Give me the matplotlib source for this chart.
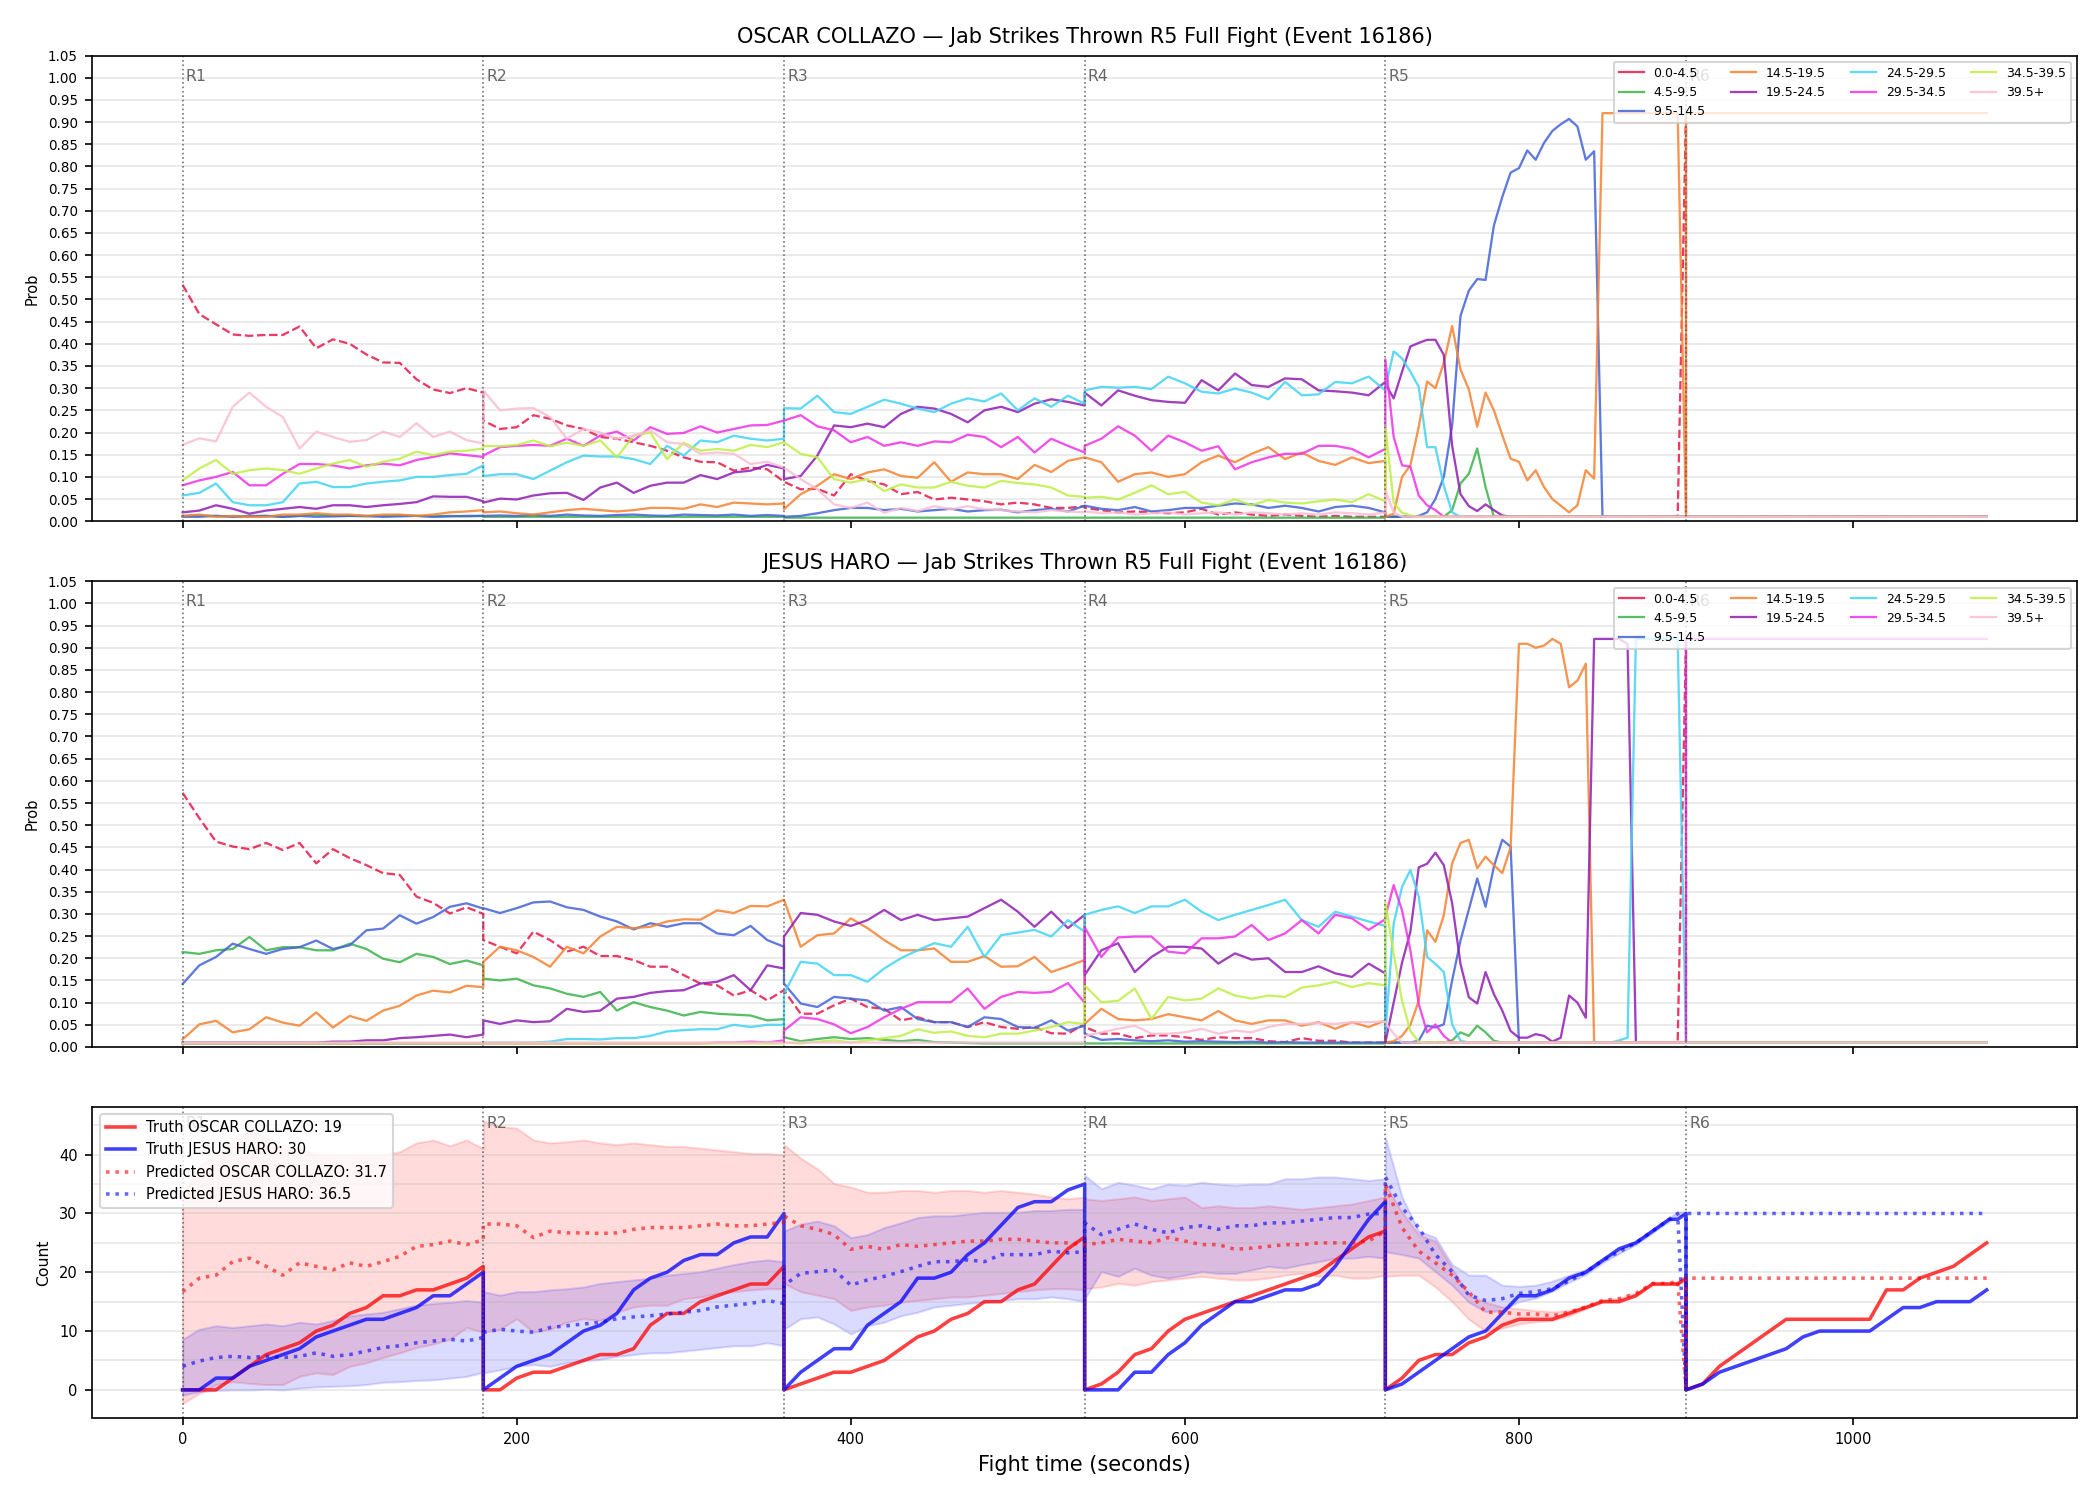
"""
Jab strikes thrown - round-by-round probability and count chart
"""

import matplotlib
matplotlib.use('Agg')
import matplotlib.pyplot as plt
from matplotlib.lines import Line2D
from matplotlib.ticker import MultipleLocator
import numpy as np

# ---------------------------------------------------------------- data
ROUND_STARTS = [0, 180, 360, 540, 720, 900]

BIN_LABELS = ['0.0-4.5', '4.5-9.5', '9.5-14.5', '14.5-19.5', '19.5-24.5',
              '24.5-29.5', '29.5-34.5', '34.5-39.5', '39.5+']
BIN_COLORS = ['#e6194b', '#3cb44b', '#4363d8', '#f58231', '#911eb4',
              '#42d4f4', '#f032e6', '#bfef45', '#fabed4']

# sample times of the probability curves (round 5 is sampled every 5 s)
PROB_TIMES = [np.arange(0, 181, 10), np.arange(180, 361, 10),
              np.arange(360, 541, 10), np.arange(540, 721, 10),
              np.arange(720, 901, 5), np.array([900, 1080])]

# sample times of the count curves
COUNT_TIMES = [np.arange(0, 181, 10), np.arange(180, 361, 10),
               np.arange(360, 541, 10), np.arange(540, 721, 10),
               np.r_[np.arange(720, 891, 10), 895, 900],
               np.arange(900, 1081, 10)]

# OSCAR COLLAZO - probability per bin, one list per round
col_00 = [
    [0.533, 0.467, 0.444, 0.421, 0.418, 0.42, 0.42, 0.439, 0.39, 0.41, 0.40, 0.376, 0.358, 0.357, 0.32, 0.297, 0.289, 0.30, 0.29],
    [0.227, 0.208, 0.212, 0.239, 0.231, 0.216, 0.208, 0.19, 0.186, 0.178, 0.17, 0.159, 0.144, 0.134, 0.133, 0.114, 0.121, 0.117, 0.089],
    [0.089, 0.072, 0.073, 0.058, 0.106, 0.091, 0.083, 0.061, 0.066, 0.049, 0.053, 0.049, 0.045, 0.038, 0.042, 0.038, 0.03, 0.03, 0.034],
    [0.03, 0.025, 0.02, 0.022, 0.02, 0.018, 0.02, 0.028, 0.015, 0.02, 0.015, 0.012, 0.015, 0.012, 0.01, 0.012, 0.01, 0.01, 0.01],
    [0.01] * 36 + [0.92],
    [0.01, 0.01]]
col_45 = [
    [0.012, 0.013, 0.012, 0.011, 0.012, 0.012, 0.01, 0.012, 0.015, 0.012, 0.012, 0.011, 0.012, 0.013, 0.012, 0.011, 0.012, 0.011, 0.012],
    [0.01] * 19,
    [0.008] * 19,
    [0.008] * 19,
    [0.01] * 8 + [0.025, 0.085, 0.107, 0.164, 0.077, 0.01] + [0.01] * 23,
    [0.01, 0.01]]
col_95 = [
    [0.01, 0.01, 0.012, 0.01, 0.011, 0.012, 0.01, 0.012, 0.01, 0.011, 0.012, 0.012, 0.01, 0.011, 0.012, 0.01, 0.011, 0.012, 0.012],
    [0.012, 0.013, 0.012, 0.014, 0.012, 0.015, 0.013, 0.012, 0.014, 0.015, 0.013, 0.012, 0.015, 0.014, 0.013, 0.015, 0.012, 0.014, 0.012],
    [0.01, 0.012, 0.018, 0.025, 0.03, 0.03, 0.025, 0.028, 0.022, 0.025, 0.028, 0.022, 0.025, 0.026, 0.02, 0.025, 0.028, 0.022, 0.035],
    [0.035, 0.028, 0.025, 0.032, 0.022, 0.025, 0.03, 0.03, 0.035, 0.04, 0.038, 0.03, 0.035, 0.03, 0.022, 0.032, 0.035, 0.03, 0.02],
    [0.01, 0.01, 0.01, 0.01, 0.012, 0.02, 0.05, 0.1, 0.216, 0.463, 0.52, 0.546, 0.544, 0.667, 0.731, 0.786, 0.796,
     0.836, 0.815, 0.853, 0.88, 0.895, 0.907, 0.89, 0.815, 0.834] + [0.01] * 11,
    [0.01, 0.01]]
col_145 = [
    [0.012, 0.015, 0.01, 0.012, 0.01, 0.01, 0.015, 0.015, 0.018, 0.015, 0.015, 0.012, 0.015, 0.015, 0.012, 0.015, 0.02, 0.022, 0.025],
    [0.02, 0.022, 0.018, 0.015, 0.02, 0.025, 0.028, 0.025, 0.022, 0.025, 0.03, 0.03, 0.028, 0.038, 0.032, 0.042, 0.04, 0.038, 0.04],
    [0.027, 0.061, 0.08, 0.106, 0.095, 0.11, 0.117, 0.102, 0.098, 0.133, 0.089, 0.11, 0.106, 0.106, 0.095, 0.127, 0.111, 0.136, 0.144],
    [0.144, 0.133, 0.089, 0.106, 0.11, 0.10, 0.106, 0.133, 0.148, 0.133, 0.152, 0.167, 0.14, 0.155, 0.136, 0.127, 0.144, 0.131, 0.136],
    [0.01, 0.017, 0.1, 0.126, 0.213, 0.315, 0.3, 0.357, 0.44, 0.342, 0.297, 0.213, 0.29, 0.25, 0.194, 0.141, 0.134,
     0.092, 0.115, 0.077, 0.05, 0.035, 0.02, 0.036, 0.115, 0.096] + [0.92] * 10 + [0.01],
    [0.92, 0.92]]
col_195 = [
    [0.02, 0.024, 0.036, 0.028, 0.017, 0.024, 0.028, 0.032, 0.028, 0.036, 0.036, 0.032, 0.036, 0.039, 0.043, 0.056, 0.055, 0.055, 0.045],
    [0.042, 0.051, 0.049, 0.058, 0.063, 0.064, 0.048, 0.076, 0.087, 0.064, 0.08, 0.087, 0.087, 0.104, 0.095, 0.11, 0.114, 0.127, 0.119],
    [0.095, 0.102, 0.148, 0.216, 0.212, 0.22, 0.212, 0.242, 0.258, 0.254, 0.242, 0.223, 0.25, 0.258, 0.246, 0.265, 0.275, 0.269, 0.261],
    [0.29, 0.261, 0.295, 0.283, 0.273, 0.269, 0.267, 0.318, 0.295, 0.333, 0.307, 0.303, 0.322, 0.32, 0.295, 0.293, 0.29, 0.284, 0.314],
    [0.31, 0.277, 0.337, 0.394, 0.402, 0.409, 0.409, 0.375, 0.17, 0.061, 0.034, 0.023, 0.038, 0.025, 0.013] + [0.01] * 22,
    [0.01, 0.01]]
col_245 = [
    [0.058, 0.064, 0.085, 0.043, 0.036, 0.036, 0.043, 0.085, 0.089, 0.077, 0.077, 0.085, 0.089, 0.092, 0.10, 0.10, 0.104, 0.107, 0.126],
    [0.102, 0.106, 0.106, 0.095, 0.114, 0.133, 0.148, 0.146, 0.146, 0.14, 0.129, 0.17, 0.148, 0.182, 0.178, 0.193, 0.186, 0.182, 0.186],
    [0.255, 0.254, 0.283, 0.246, 0.242, 0.258, 0.274, 0.265, 0.254, 0.246, 0.265, 0.277, 0.27, 0.288, 0.25, 0.277, 0.258, 0.283, 0.265],
    [0.295, 0.303, 0.301, 0.303, 0.298, 0.326, 0.311, 0.292, 0.288, 0.299, 0.29, 0.275, 0.314, 0.284, 0.286, 0.314, 0.311, 0.326, 0.295],
    [0.30, 0.383, 0.367, 0.337, 0.303, 0.167, 0.167, 0.08, 0.02] + [0.01] * 28,
    [0.01, 0.01]]
col_295 = [
    [0.081, 0.092, 0.10, 0.111, 0.081, 0.081, 0.107, 0.129, 0.129, 0.126, 0.119, 0.126, 0.13, 0.126, 0.138, 0.145, 0.153, 0.149, 0.145],
    [0.148, 0.167, 0.17, 0.172, 0.17, 0.186, 0.17, 0.193, 0.202, 0.182, 0.212, 0.197, 0.199, 0.214, 0.2, 0.208, 0.216, 0.217, 0.227],
    [0.227, 0.239, 0.214, 0.205, 0.178, 0.19, 0.17, 0.178, 0.17, 0.18, 0.178, 0.195, 0.19, 0.167, 0.19, 0.155, 0.186, 0.17, 0.155],
    [0.17, 0.186, 0.214, 0.193, 0.159, 0.193, 0.178, 0.159, 0.169, 0.117, 0.133, 0.144, 0.152, 0.152, 0.17, 0.17, 0.163, 0.144, 0.163],
    [0.365, 0.19, 0.126, 0.123, 0.058, 0.036, 0.025] + [0.01] * 30,
    [0.01, 0.01]]
col_345 = [
    [0.092, 0.119, 0.138, 0.107, 0.115, 0.119, 0.115, 0.107, 0.119, 0.13, 0.138, 0.123, 0.134, 0.141, 0.157, 0.149, 0.157, 0.159, 0.164],
    [0.17, 0.169, 0.172, 0.182, 0.169, 0.177, 0.17, 0.182, 0.144, 0.193, 0.2, 0.14, 0.177, 0.159, 0.163, 0.159, 0.172, 0.167, 0.178],
    [0.178, 0.152, 0.144, 0.095, 0.087, 0.095, 0.068, 0.083, 0.076, 0.076, 0.089, 0.08, 0.076, 0.091, 0.086, 0.083, 0.076, 0.058, 0.055],
    [0.053, 0.055, 0.049, 0.064, 0.081, 0.061, 0.066, 0.042, 0.036, 0.049, 0.036, 0.048, 0.042, 0.04, 0.045, 0.049, 0.043, 0.061, 0.045],
    [0.213, 0.042, 0.019, 0.013] + [0.01] * 33,
    [0.01, 0.01]]
col_395 = [
    [0.172, 0.187, 0.18, 0.258, 0.29, 0.258, 0.235, 0.164, 0.202, 0.19, 0.179, 0.183, 0.202, 0.19, 0.221, 0.19, 0.202, 0.183, 0.175],
    [0.295, 0.25, 0.254, 0.255, 0.235, 0.186, 0.208, 0.2, 0.186, 0.193, 0.205, 0.178, 0.174, 0.152, 0.155, 0.152, 0.129, 0.134, 0.121],
    [0.121, 0.095, 0.072, 0.038, 0.03, 0.042, 0.019, 0.03, 0.023, 0.034, 0.027, 0.034, 0.027, 0.025, 0.022, 0.02, 0.025, 0.022, 0.02],
    [0.022, 0.018, 0.02, 0.015, 0.018, 0.02, 0.015, 0.018, 0.02, 0.015, 0.02, 0.018, 0.015, 0.018, 0.015, 0.02, 0.018, 0.015, 0.02],
    [0.07, 0.02] + [0.01] * 35,
    [0.01, 0.01]]

# JESUS HARO - probability per bin, one list per round
har_00 = [
    [0.573, 0.516, 0.463, 0.452, 0.446, 0.46, 0.444, 0.46, 0.414, 0.446, 0.426, 0.41, 0.392, 0.388, 0.339, 0.325, 0.301, 0.315, 0.3],
    [0.241, 0.226, 0.211, 0.26, 0.241, 0.215, 0.226, 0.205, 0.205, 0.196, 0.181, 0.181, 0.162, 0.143, 0.139, 0.116, 0.128, 0.105, 0.128],
    [0.128, 0.075, 0.075, 0.094, 0.109, 0.09, 0.086, 0.06, 0.067, 0.056, 0.056, 0.045, 0.056, 0.045, 0.041, 0.045, 0.031, 0.03, 0.052],
    [0.045, 0.03, 0.03, 0.02, 0.026, 0.026, 0.022, 0.016, 0.022, 0.02, 0.02, 0.013, 0.011, 0.02, 0.014, 0.014, 0.01, 0.01, 0.01],
    [0.01] * 36 + [0.92],
    [0.01, 0.01]]
har_45 = [
    [0.214, 0.21, 0.218, 0.221, 0.248, 0.218, 0.225, 0.225, 0.218, 0.218, 0.233, 0.221, 0.199, 0.191, 0.21, 0.203, 0.187, 0.195, 0.184],
    [0.154, 0.15, 0.154, 0.139, 0.132, 0.12, 0.113, 0.124, 0.082, 0.101, 0.09, 0.082, 0.071, 0.079, 0.075, 0.073, 0.071, 0.06, 0.063],
    [0.022, 0.013, 0.018, 0.022, 0.018, 0.02, 0.016, 0.013, 0.016, 0.011, 0.01, 0.009, 0.008, 0.008, 0.008, 0.008, 0.008, 0.008, 0.008],
    [0.008] * 19,
    [0.01] * 8 + [0.015, 0.033, 0.025, 0.048, 0.033, 0.014] + [0.01] * 23,
    [0.01, 0.01]]
har_95 = [
    [0.142, 0.184, 0.203, 0.233, 0.221, 0.21, 0.221, 0.225, 0.24, 0.221, 0.229, 0.263, 0.267, 0.297, 0.278, 0.293, 0.316, 0.324, 0.312],
    [0.313, 0.302, 0.313, 0.326, 0.328, 0.315, 0.309, 0.294, 0.283, 0.265, 0.279, 0.271, 0.279, 0.279, 0.256, 0.252, 0.273, 0.241, 0.226],
    [0.143, 0.098, 0.09, 0.113, 0.109, 0.105, 0.082, 0.09, 0.063, 0.056, 0.056, 0.045, 0.067, 0.063, 0.045, 0.043, 0.06, 0.037, 0.048],
    [0.03, 0.016, 0.018, 0.015, 0.013, 0.015, 0.012, 0.013, 0.012, 0.011, 0.012, 0.01, 0.011, 0.01, 0.01, 0.01, 0.01, 0.01, 0.01],
    [0.01, 0.01, 0.01, 0.01, 0.014, 0.048, 0.044, 0.051, 0.15, 0.24, 0.31, 0.38, 0.316, 0.407, 0.467, 0.452] + [0.01] * 21,
    [0.01, 0.01]]
har_145 = [
    [0.017, 0.051, 0.059, 0.033, 0.04, 0.067, 0.055, 0.048, 0.078, 0.044, 0.07, 0.059, 0.082, 0.093, 0.116, 0.127, 0.123, 0.138, 0.135],
    [0.192, 0.226, 0.218, 0.203, 0.181, 0.226, 0.211, 0.249, 0.271, 0.268, 0.271, 0.283, 0.288, 0.287, 0.308, 0.302, 0.318, 0.317, 0.332],
    [0.332, 0.226, 0.252, 0.256, 0.29, 0.268, 0.241, 0.218, 0.218, 0.222, 0.192, 0.192, 0.205, 0.181, 0.182, 0.203, 0.169, 0.182, 0.196],
    [0.052, 0.086, 0.063, 0.06, 0.063, 0.074, 0.067, 0.06, 0.081, 0.06, 0.052, 0.06, 0.06, 0.048, 0.056, 0.041, 0.056, 0.045, 0.06],
    [0.01, 0.013, 0.025, 0.05, 0.104, 0.263, 0.237, 0.297, 0.414, 0.46, 0.467, 0.403, 0.429, 0.41, 0.392, 0.45, 0.909,
     0.909, 0.9, 0.905, 0.92, 0.909, 0.811, 0.826, 0.864] + [0.01] * 12,
    [0.01, 0.01]]
har_195 = [
    [0.01] * 9 + [0.012, 0.012, 0.015, 0.015, 0.02, 0.022, 0.025, 0.028, 0.022, 0.028],
    [0.06, 0.052, 0.06, 0.056, 0.058, 0.086, 0.079, 0.082, 0.109, 0.113, 0.122, 0.126, 0.128, 0.143, 0.147, 0.162, 0.128, 0.184, 0.177],
    [0.249, 0.302, 0.298, 0.283, 0.273, 0.286, 0.309, 0.286, 0.298, 0.286, 0.29, 0.294, 0.313, 0.332, 0.305, 0.271, 0.305, 0.268, 0.298],
    [0.162, 0.218, 0.234, 0.169, 0.203, 0.226, 0.226, 0.222, 0.188, 0.211, 0.197, 0.2, 0.169, 0.169, 0.182, 0.166, 0.158, 0.188, 0.166],
    [0.01, 0.1, 0.19, 0.26, 0.405, 0.413, 0.438, 0.41, 0.324, 0.187, 0.112, 0.098, 0.169, 0.119, 0.082, 0.036, 0.021,
     0.021, 0.029, 0.025, 0.012, 0.021, 0.116, 0.1, 0.066, 0.92, 0.92, 0.92, 0.92, 0.909] + [0.01] * 7,
    [0.01, 0.01]]
har_245 = [
    [0.008] * 19,
    [0.01, 0.01, 0.01, 0.01, 0.012, 0.018, 0.018, 0.017, 0.02, 0.02, 0.025, 0.035, 0.038, 0.04, 0.04, 0.05, 0.045, 0.05, 0.05],
    [0.12, 0.192, 0.188, 0.162, 0.162, 0.147, 0.177, 0.2, 0.218, 0.234, 0.226, 0.271, 0.203, 0.252, 0.258, 0.264, 0.249, 0.286, 0.26],
    [0.298, 0.309, 0.317, 0.302, 0.317, 0.317, 0.332, 0.305, 0.286, 0.298, 0.309, 0.32, 0.332, 0.286, 0.271, 0.305, 0.294, 0.283, 0.273],
    [0.03, 0.278, 0.361, 0.399, 0.339, 0.203, 0.187, 0.169, 0.051, 0.014] + [0.01] * 18 + [0.015, 0.021] + [0.92] * 6 + [0.01],
    [0.01, 0.01]]
har_295 = [
    [0.008] * 19,
    [0.008] * 14 + [0.01, 0.01, 0.012, 0.01, 0.015],
    [0.037, 0.067, 0.063, 0.051, 0.031, 0.045, 0.067, 0.086, 0.101, 0.101, 0.101, 0.132, 0.086, 0.113, 0.124, 0.122, 0.124, 0.144, 0.1],
    [0.27, 0.203, 0.247, 0.249, 0.249, 0.215, 0.211, 0.245, 0.245, 0.249, 0.275, 0.241, 0.256, 0.286, 0.256, 0.298, 0.29, 0.264, 0.288],
    [0.293, 0.365, 0.308, 0.218, 0.097, 0.033, 0.051, 0.025] + [0.01] * 29,
    [0.92, 0.92]]
har_345 = [
    [0.008] * 19,
    [0.008] * 19,
    [0.01, 0.008, 0.012, 0.015, 0.01, 0.015, 0.02, 0.025, 0.04, 0.032, 0.035, 0.025, 0.022, 0.03, 0.03, 0.037, 0.045, 0.056, 0.052],
    [0.139, 0.101, 0.104, 0.132, 0.063, 0.113, 0.105, 0.109, 0.132, 0.116, 0.109, 0.116, 0.113, 0.134, 0.139, 0.147, 0.135, 0.144, 0.139],
    [0.327, 0.21, 0.104, 0.036, 0.012] + [0.01] * 32,
    [0.01, 0.01]]
har_395 = [
    [0.01] * 19,
    [0.01] * 19,
    [0.01] * 19,
    [0.025, 0.033, 0.041, 0.048, 0.03, 0.03, 0.033, 0.041, 0.03, 0.037, 0.033, 0.045, 0.052, 0.052, 0.054, 0.052, 0.056, 0.056, 0.058],
    [0.055, 0.03] + [0.01] * 35,
    [0.01, 0.01]]

# counts: truth and predicted per round
truth_collazo = [
    [0, 0, 0, 2, 4, 6, 7, 8, 10, 11, 13, 14, 16, 16, 17, 17, 18, 19, 21],
    [0, 0, 2, 3, 3, 4, 5, 6, 6, 7, 11, 13, 13, 15, 16, 17, 18, 18, 21],
    [0, 1, 2, 3, 3, 4, 5, 7, 9, 10, 12, 13, 15, 15, 17, 18, 21, 24, 26],
    [0, 1, 3, 6, 7, 10, 12, 13, 14, 15, 16, 17, 18, 19, 20, 22, 24, 26, 27],
    [0, 2, 5, 6, 6, 8, 9, 11, 12, 12, 12, 13, 14, 15, 15, 16, 18, 18, 18, 19],
    [0, 1, 4, 6, 8, 10, 12, 12, 12, 12, 12, 12, 17, 17, 19, 20, 21, 23, 25]]
truth_haro = [
    [0, 0, 2, 2, 4, 5, 6, 7, 9, 10, 11, 12, 12, 13, 14, 16, 16, 18, 20],
    [0, 2, 4, 5, 6, 8, 10, 11, 13, 17, 19, 20, 22, 23, 23, 25, 26, 26, 30],
    [0, 3, 5, 7, 7, 11, 13, 15, 19, 19, 20, 23, 25, 28, 31, 32, 32, 34, 35],
    [0, 0, 0, 3, 3, 6, 8, 11, 13, 15, 15, 16, 17, 17, 18, 21, 25, 29, 32],
    [0, 1, 3, 5, 7, 9, 10, 13, 16, 16, 17, 19, 20, 22, 24, 25, 27, 29, 29, 30],
    [0, 1, 3, 4, 5, 6, 7, 9, 10, 10, 10, 10, 12, 14, 14, 15, 15, 15, 17]]
pred_collazo = [
    [16.7, 19, 19.5, 21.8, 22.4, 21, 19.5, 21.6, 21, 20.4, 21.6, 21, 21.8, 22.7, 24.4, 24.7, 25.3, 24.7, 25.5],
    [28.2, 28.2, 27.9, 25.9, 27, 26.7, 26.7, 26.6, 26.7, 27.3, 27.6, 27.6, 27.6, 27.9, 28.2, 27.9, 27.9, 28.2, 28.5],
    [29.6, 27.9, 27.3, 26.4, 23.9, 24.4, 23.9, 24.7, 24.4, 24.7, 25, 25.3, 25.3, 25.6, 25.6, 25.3, 25, 25, 24.7],
    [24.7, 25, 25.6, 25.3, 25, 25.9, 25.3, 24.7, 24.7, 23.9, 24.1, 24.4, 24.7, 24.7, 25, 25, 25, 25.3, 27],
    [35, 27.6, 23.6, 21.6, 19.5, 16.7, 13.2, 13.2, 12.9, 12.9, 12.6, 13.2, 14.1, 15.2, 15.5, 16.4, 18.1, 18.1, 18.5, 0],
    [19] * 19]
pred_haro = [
    [4, 4.9, 5.5, 5.7, 5.5, 5.7, 5.5, 5.7, 6.3, 5.7, 6, 6.6, 7.2, 7.5, 8, 8.3, 8.6, 8.3, 8.9],
    [9.8, 10.3, 10, 9.8, 10.6, 10.9, 11.2, 11.5, 12.1, 12.4, 12.6, 12.9, 13.2, 13.5, 14.1, 14.4, 14.7, 15.2, 14.7],
    [17.8, 19.8, 20.1, 20.4, 17.8, 18.7, 19.3, 20.1, 21, 21.8, 21.8, 22.1, 21.8, 23, 23, 23, 23.6, 23.3, 23.5],
    [28.4, 26.4, 27.3, 28.2, 27.3, 26.7, 27.6, 27.9, 27.3, 27.9, 27.9, 28.4, 28.4, 28.7, 29, 29.3, 29.3, 29.9, 30],
    [36.2, 31, 27.6, 23, 20.1, 16.1, 15.2, 15.5, 16.4, 16.7, 17.2, 18.5, 20, 22, 23.5, 25, 27, 29, 30, 0],
    [30] * 19]

# prediction intervals (rounds 1-5)
collazo_hi = [
    [33, 38, 40, 42, 44, 43, 41, 41, 40, 40, 40, 40, 40, 40.5, 42, 42.5, 41.5, 42.5, 41],
    [45.7, 44.8, 44.5, 42.5, 42, 42.2, 42.5, 42, 41.7, 42, 41.7, 41.4, 41.4, 41.1, 40.8, 40.5, 40.2, 40.2, 40],
    [41.7, 39.4, 37.6, 35.1, 34.5, 33.6, 33.6, 33.9, 33.9, 33.6, 33.9, 33.9, 33.6, 33.9, 33.6, 33.3, 32.8, 32.5, 32.8],
    [32.5, 32.2, 32.5, 32.8, 32.2, 32.5, 32.8, 31, 31.3, 31, 31, 31.3, 31, 30.7, 31, 31.3, 31.6, 32.2, 32.8],
    [35, 30.2, 26.4, 25.3, 20.7, 16.1, 14.9, 14.1, 13.8, 13.5, 13.3, 13.5, 14.2, 15.3, 15.6, 16.5, 18.2, 18.2, 18.5, 18.5]]
collazo_lo = [
    [-2.3, -0.6, 0.9, 1.4, 1.1, 0.9, 0.9, 2.3, 2.9, 2.6, 4, 4.6, 5.5, 6.3, 7.2, 7.8, 8.6, 10.6, 9.8],
    [9.8, 10.3, 12.1, 9.8, 10.3, 11.5, 12.1, 11.8, 13.2, 14.1, 14.4, 14.4, 15.5, 15.8, 16.4, 16.7, 17, 17.2, 17.2],
    [18.1, 16.7, 16.1, 15.5, 13.5, 14.1, 14.4, 14.9, 15.2, 15.5, 15.8, 15.8, 16.1, 16.4, 16.7, 17, 17.2, 17.2, 17],
    [17.2, 17.5, 18.1, 17.8, 18.4, 18.7, 19, 19.3, 19, 18.7, 18.7, 19, 19.5, 19.8, 19.3, 19.5, 19, 19, 19.5],
    [19.3, 19.5, 19.5, 17.5, 15, 12, 10, 10.5, 11.2, 11.6, 11.8, 12.6, 13.8, 15, 15.3, 16.2, 17.9, 17.9, 18.2, 18.2]]
haro_hi = [
    [8.6, 10.3, 10.9, 10.6, 10.9, 11.2, 10.9, 11.5, 11.2, 11.8, 12.6, 12.9, 13.2, 13.8, 14.4, 14.7, 14.9, 15.2, 14.9],
    [16.7, 16.1, 16.7, 16.7, 17, 17.2, 17.5, 18.1, 18.4, 18.7, 19, 19.5, 19.8, 20.1, 20.7, 21.3, 21.8, 22.1, 21.8],
    [27, 28.2, 28.7, 27.9, 25.9, 26.4, 27.6, 28.4, 29.3, 29.6, 29.6, 29.9, 30.2, 30.2, 30.2, 30.5, 30.5, 30.7, 30.7],
    [36.5, 34.2, 35.3, 34.8, 34.2, 35, 34.8, 35.3, 35, 34.8, 35, 35, 35.9, 35.9, 36.2, 36.2, 35.9, 35.6, 35.9],
    [43, 32.8, 27, 25.9, 21.3, 19.5, 19.5, 17.8, 17.6, 17.8, 18.5, 19.5, 20.5, 22.3, 23.8, 25.3, 27.3, 29.3, 30.3, 30.3]]
haro_lo = [
    [-0.9, -0.3, -0.1, 0, 0, 0.1, 0, 0.3, 0.5, 0.6, 0.7, 0.9, 1.3, 1.4, 1.6, 1.7, 2, 2.3, 3],
    [2.9, 3.4, 4, 4.3, 4, 4.6, 4.9, 5.2, 5.7, 6, 6.3, 6.3, 6.6, 6.9, 7.2, 7.5, 7.5, 8, 7.5],
    [10.3, 12.1, 12.4, 11.2, 9.5, 10.9, 11.5, 12.6, 13.2, 14.1, 14.4, 14.7, 14.9, 15.2, 15.5, 15.5, 15.8, 15.5, 15],
    [15.5, 20.1, 19.3, 20.7, 19.5, 19, 19.5, 20.1, 19.8, 19.8, 20.4, 21, 20.7, 21.3, 21.8, 22.4, 22.4, 22.7, 22.4],
    [23.5, 23, 22.4, 20.1, 17.8, 14.9, 13.3, 13.5, 15, 15.6, 16.8, 18.3, 19.6, 21.6, 23.2, 24.7, 26.7, 28.7, 29.7, 29.7]]


def join(rounds, times):
    """Stitch per-round samples into one x/y pair"""
    x = np.concatenate(times[:len(rounds)])
    y = np.concatenate([np.asarray(r, dtype=float) for r in rounds])
    return x, y


def mark_rounds(ax):
    for i, start in enumerate(ROUND_STARTS):
        ax.axvline(start, color='#555555', linestyle=':', linewidth=0.8, alpha=0.8)
        ax.text(start + 2, 0.972, f'R{i + 1}', transform=ax.get_xaxis_transform(),
                ha='left', va='top', fontsize=7.5, color='#666666')


def draw_prob_panel(ax, series, name):
    for label, color, rounds in zip(BIN_LABELS, BIN_COLORS, series):
        x, y = join(rounds, PROB_TIMES)
        style = '--' if label == '0.0-4.5' else '-'
        ax.plot(x, y, color=color, linestyle=style, linewidth=1.1, alpha=0.85)
    mark_rounds(ax)
    ax.set_ylim(0, 1.05)
    ax.set_yticks(np.arange(0, 1.051, 0.05))
    ax.set_ylabel('Prob', fontsize=7)
    ax.tick_params(labelsize=6.5)
    ax.grid(True, axis='y', alpha=0.3)
    ax.set_title(f'{name} \u2014 Jab Strikes Thrown R5 Full Fight (Event 16186)', fontsize=10)
    handles = [Line2D([0], [0], color=c, linewidth=1.1, alpha=0.85) for c in BIN_COLORS]
    ax.legend(handles, BIN_LABELS, ncol=4, fontsize=6, loc='upper right')


# ---------------------------------------------------------------- figure
fig, (ax1, ax2, ax3) = plt.subplots(3, 1, figsize=(14, 10), sharex=True,
                                    gridspec_kw={'height_ratios': [3, 3, 2]})
fig.subplots_adjust(left=0.044, right=0.989, top=0.963, bottom=0.055, hspace=0.145)

draw_prob_panel(ax1, [col_00, col_45, col_95, col_145, col_195, col_245, col_295, col_345, col_395],
                'OSCAR COLLAZO')
draw_prob_panel(ax2, [har_00, har_45, har_95, har_145, har_195, har_245, har_295, har_345, har_395],
                'JESUS HARO')

# bottom panel: counts
xb, lo_c = join(collazo_lo, COUNT_TIMES)
_, hi_c = join(collazo_hi, COUNT_TIMES)
_, lo_h = join(haro_lo, COUNT_TIMES)
_, hi_h = join(haro_hi, COUNT_TIMES)
ax3.fill_between(xb, lo_c, hi_c, color='red', alpha=0.14)
ax3.fill_between(xb, lo_h, hi_h, color='blue', alpha=0.14)

x, y = join(truth_collazo, COUNT_TIMES)
ax3.plot(x, y, color='red', linewidth=1.7, alpha=0.75, label='Truth OSCAR COLLAZO: 19')
x, y = join(truth_haro, COUNT_TIMES)
ax3.plot(x, y, color='blue', linewidth=1.7, alpha=0.75, label='Truth JESUS HARO: 30')
x, y = join(pred_collazo, COUNT_TIMES)
ax3.plot(x, y, color='red', linestyle=':', linewidth=1.7, alpha=0.6, label='Predicted OSCAR COLLAZO: 31.7')
x, y = join(pred_haro, COUNT_TIMES)
ax3.plot(x, y, color='blue', linestyle=':', linewidth=1.7, alpha=0.6, label='Predicted JESUS HARO: 36.5')

mark_rounds(ax3)
ax3.set_ylabel('Count', fontsize=7.5)
ax3.set_xlabel('Fight time (seconds)', fontsize=10)
ax3.yaxis.set_minor_locator(MultipleLocator(5))
ax3.tick_params(labelsize=7)
ax3.tick_params(which='minor', length=0)
ax3.grid(True, axis='y', which='both', alpha=0.3)
ax3.legend(loc='upper left', fontsize=7)

plt.savefig('out.png', dpi=150)
plt.close()
